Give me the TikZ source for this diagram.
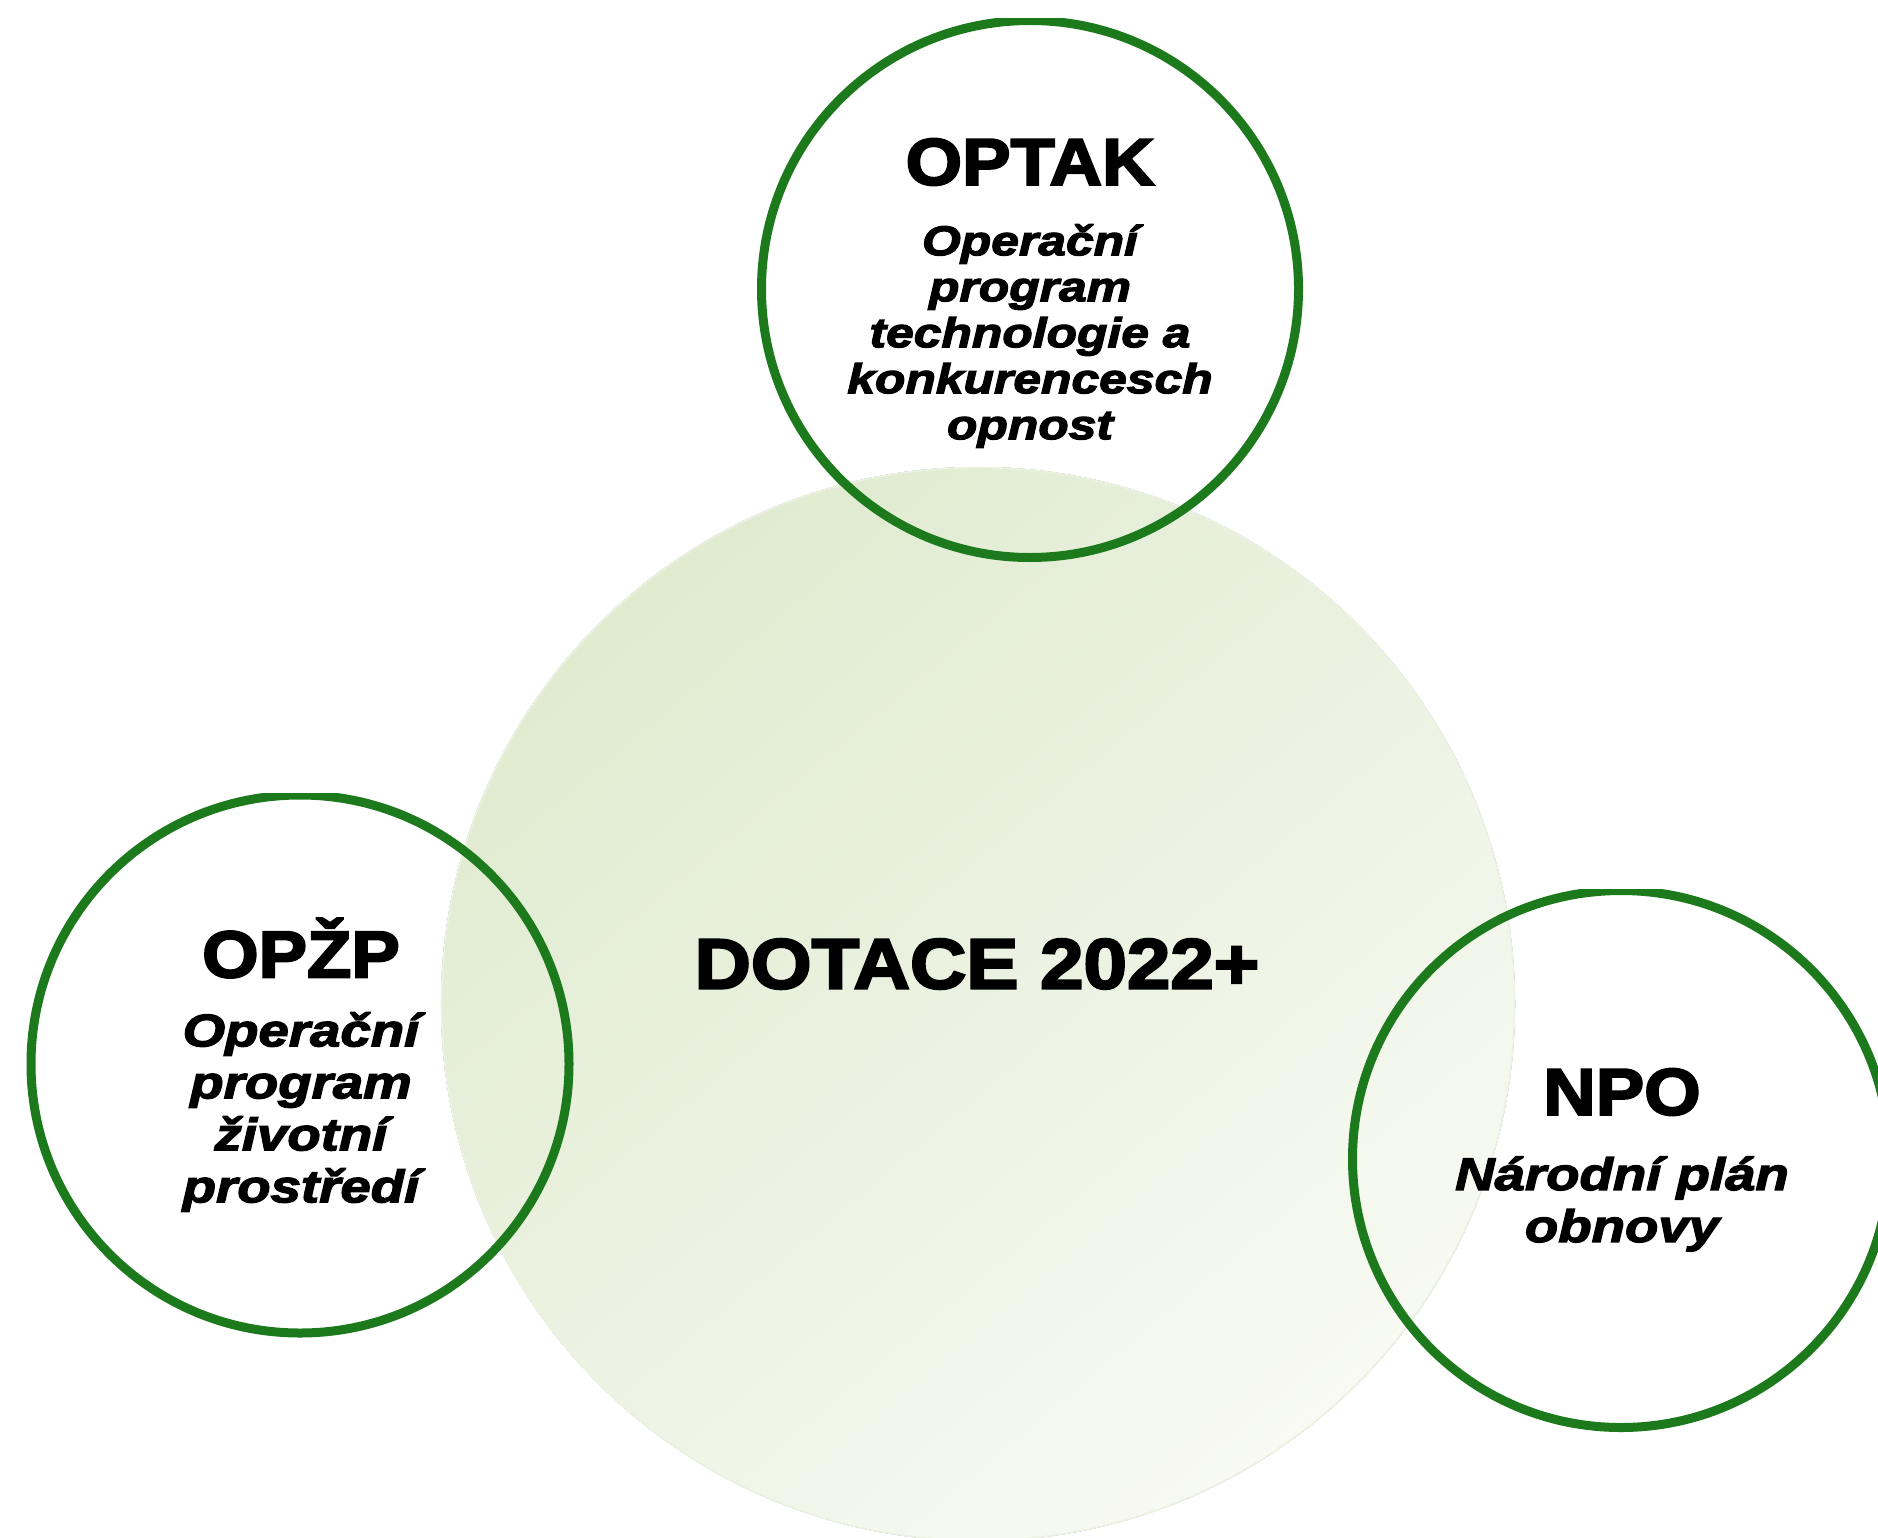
\documentclass[tikz,border=0pt]{standalone}
\usepackage{fontspec}
\newfontfamily\blk{Liberation Sans Bold}[FakeBold=3.2, FakeStretch=1.1]
\newfontfamily\blkit{Liberation Sans Bold Italic}[FakeBold=3, FakeStretch=1.2]
\definecolor{ringgreen}{RGB}{28,122,28}
\definecolor{bigA}{RGB}{224,235,208}
\definecolor{bigB}{RGB}{248,250,243}
\colorlet{bigM}{bigA!45!bigB}
\tikzset{
  ring/.style={draw=ringgreen, line width=9pt},
  ttl/.style={font=\blk\fontsize{66}{70}\selectfont, inner sep=0pt},
  subsmall/.style={font=\blkit\fontsize{41.5}{46}\selectfont, align=center, inner sep=0pt},
  subbig/.style={font=\blkit\fontsize{45.5}{52}\selectfont, align=center, inner sep=0pt},
}
\begin{document}
\begin{tikzpicture}[x=1pt,y=-1pt]
\useasboundingbox (0,0) rectangle (1878,1538);
\begin{scope}
\clip (0,0) rectangle (1878,1538);
\fill[top color=bigA, bottom color=bigB, shading angle=40] (978,1004) circle[radius=537];
\draw[bigM, line width=1.6pt] (978,1004) circle[radius=536.5];
\end{scope}
% rings
\begin{scope}
\clip (700,19) rectangle (1360,600);
\draw[ring] (1030,289) circle[radius=268.5];
\end{scope}
\begin{scope}
\clip (0,793) rectangle (600,1400);
\draw[ring] (300,1064) circle[radius=269];
\end{scope}
\begin{scope}
\clip (1300,889) rectangle (1878,1500);
\draw[ring] (1621,1159) circle[radius=268.5];
\end{scope}
\node[ttl] (optak) at (1030,162) {OPTAK};
\node[subsmall] (optaksub) at (1030,336) {Operační\\program\\technologie a\\konkurencesch\\opnost};
\node[ttl, font=\blk\fontsize{71}{76}\selectfont] (dotace) at (977,964) {DOTACE 2022+};
\node[ttl] (opzp) at (301,948) {OPŽP};
\node[subbig] (opzpsub) at (301,1112) {Operační\\program\\životní\\prostředí};
\node[ttl] (npo) at (1622,1092) {NPO};
\node[subbig] (nposub) at (1622,1204) {Národní plán\\obnovy};
\end{tikzpicture}
\end{document}
